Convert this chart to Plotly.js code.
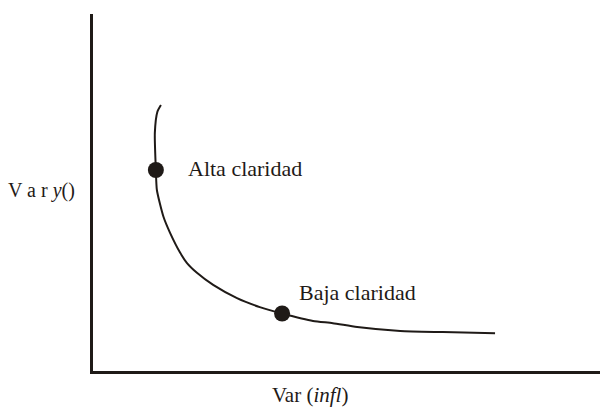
<!DOCTYPE html>
<html>
<head>
<meta charset="utf-8">
<script src="https://cdn.plot.ly/plotly-3.0.1.min.js"></script>
<style>
  html, body { margin: 0; padding: 0; background: #fff; }
  #chart { width: 600px; height: 407px; }
</style>
</head>
<body>
<div id="chart"></div>
<script>
// curve (arbitrary units, 0-100 on both axes)
const curveX = [13.4, 12.7, 12.2, 12.4, 12.6, 13.9, 15.2, 17.2, 18.5, 20.5, 23.7, 28.4, 32.9, 37.3, 43.4, 47.3, 52.1, 60.6, 69.0, 79.3];
const curveY = [74.5, 72.6, 66.7, 56.3, 50.7, 43.2, 38.7, 33.1, 30.3, 27.5, 24.1, 20.4, 17.9, 16.1, 14.0, 13.4, 12.3, 11.2, 10.9, 10.6];

// the two marked points
const pointX = [12.4, 37.3];
const pointY = [56.3, 16.1];
const pointLabels = ["Alta claridad", "Baja claridad"];

const xLabel = "Var (<i>infl</i>)";
const yLabel = "V a r <i>y</i>()";

const ink = "#1f1a17";
const serif = "Liberation Serif, Times New Roman, serif";

const curve = {
    x: curveX,
    y: curveY,
    mode: "lines",
    line: { color: ink, width: 2, shape: "spline", smoothing: 0.6 },
    hoverinfo: "skip"
};

const dots = {
    x: pointX,
    y: pointY,
    mode: "markers",
    marker: { color: ink, size: 16 },
    hoverinfo: "skip"
};

// offsets of each label from its dot, in pixels
const labelShift = [[30, 2], [15, 21]];

const annotations = pointLabels.map((t, i) => ({
    x: pointX[i], y: pointY[i], xref: "x", yref: "y",
    text: t, showarrow: false,
    xanchor: "left", yanchor: "middle",
    xshift: labelShift[i][0], yshift: labelShift[i][1],
    font: { family: serif, size: 22, color: ink }
}));

annotations.push({
    x: 0.428, y: -0.068, xref: "paper", yref: "paper",
    text: xLabel, showarrow: false,
    xanchor: "center", yanchor: "middle",
    font: { family: serif, size: 21, color: ink }
});
annotations.push({
    x: -0.172, y: 0.507, xref: "paper", yref: "paper",
    text: yLabel, showarrow: false,
    xanchor: "left", yanchor: "middle",
    font: { family: serif, size: 20, color: ink }
});

const layout = {
    width: 600,
    height: 407,
    margin: { l: 93, r: 0, t: 14, b: 36 },
    paper_bgcolor: "#fff",
    plot_bgcolor: "#fff",
    showlegend: false,
    xaxis: {
        range: [0, 100],
        showline: true, linecolor: ink, linewidth: 3,
        showgrid: false, zeroline: false, showticklabels: false, ticks: ""
    },
    yaxis: {
        range: [0, 100],
        showline: true, linecolor: ink, linewidth: 3,
        showgrid: false, zeroline: false, showticklabels: false, ticks: ""
    },
    annotations: annotations
};

Plotly.newPlot("chart", [curve, dots], layout, { staticPlot: true, displayModeBar: false });
</script>
</body>
</html>
